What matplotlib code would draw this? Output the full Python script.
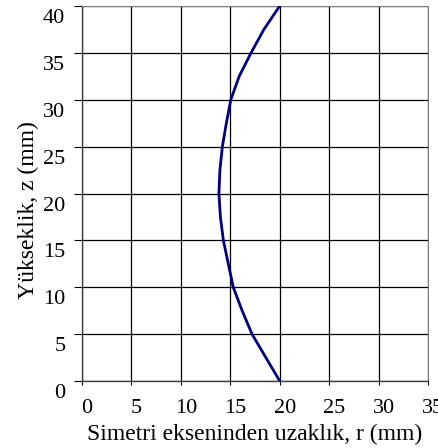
import numpy as np
import matplotlib
matplotlib.use("Agg")
from matplotlib import pyplot as plt
from matplotlib import transforms

# profile: radius r (mm) vs height z (mm)
z_mm = [0, 2.5, 5, 7.5, 10, 12.5, 15, 17.5, 20, 22.5, 25, 27.5, 30, 32.5, 35, 37.5, 40]
r_mm = [20.0, 18.6, 17.2, 16.2, 15.3, 14.8, 14.3, 14.0, 13.85, 13.95, 14.2, 14.6, 15.05, 15.9, 17.1, 18.4, 20.0]

x_ticks = [0, 5, 10, 15, 20, 25, 30, 35]
y_ticks = [0, 5, 10, 15, 20, 25, 30, 35, 40]

plt.rcParams["font.family"] = ["Liberation Serif", "DejaVu Serif"]

fig = plt.figure(figsize=(4.39, 4.48), dpi=100)
ax = fig.add_axes([82 / 439, 1 - 381 / 448, (428 - 82) / 439, (381 - 6) / 448])

ax.plot(r_mm, z_mm, color="#000080", lw=2.0, zorder=3)

ax.set_xlim(0, 35)
ax.set_ylim(0, 40)
ax.set_xticks(x_ticks)
ax.set_yticks(y_ticks)
ax.grid(True, color="black", lw=0.9)
for side in ["top", "right"]:
    ax.spines[side].set_color("#808080")
for side in ["left", "bottom"]:
    ax.spines[side].set_color("#404040")
    ax.spines[side].set_linewidth(1.0)

ax.tick_params(axis="x", direction="out", length=3, pad=10, labelsize=16)
ax.tick_params(axis="y", direction="out", length=6, pad=6, labelsize=16)

# labels in the reference sit a bit off the tick positions
dx = transforms.ScaledTranslation(5 / 100, 0, fig.dpi_scale_trans)
for lab in ax.get_xticklabels():
    lab.set_transform(lab.get_transform() + dx)
dy = transforms.ScaledTranslation(0, -3 / 100, fig.dpi_scale_trans)
for lab in ax.get_yticklabels():
    lab.set_verticalalignment("top")
    lab.set_transform(lab.get_transform() + dy)

ax.set_xlabel("Simetri ekseninden uzaklık, r (mm)", fontsize=17, labelpad=4)
ax.set_ylabel("Yükseklik, z (mm)", fontsize=17)
ax.yaxis.set_label_coords(-0.125, 0.457)

fig.savefig("out.png", dpi=100)
